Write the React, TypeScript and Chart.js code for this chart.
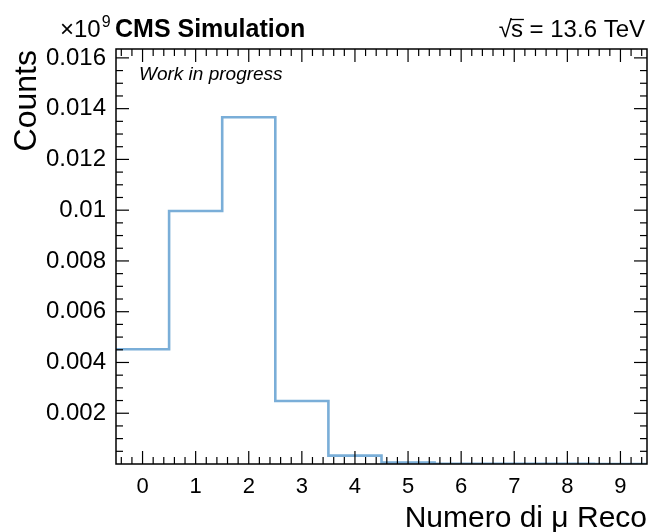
import { useEffect, useRef } from "react";
import { Chart, registerables } from "chart.js";

Chart.register(...registerables);

// Histogram: number of reconstructed muons (values in units of 10^9)
const binCenters = [0, 1, 2, 3, 4, 5, 6, 7, 8, 9];
const counts = [0.00452, 0.00997, 0.01366, 0.00248, 0.00033, 0.00006, 0.000012, 0.000006, 0.000003, 0.000002];

const xTickValues = [0, 1, 2, 3, 4, 5, 6, 7, 8, 9];
const xTickLabels = ["0", "1", "2", "3", "4", "5", "6", "7", "8", "9"];
const yTickValues = [0.002, 0.004, 0.006, 0.008, 0.01, 0.012, 0.014, 0.016];
const yTickLabels = ["0.002", "0.004", "0.006", "0.008", "0.01", "0.012", "0.014", "0.016"];

const X_MIN = -0.5;
const X_MAX = 9.5;
const Y_MAX = 0.01635;
const X_MINOR_STEP = 0.2;
const Y_MINOR_STEP = 0.0005;

const FONT = "'Liberation Sans', Arial, Helvetica, sans-serif";
const LINE_COLOR = "#7aaed8";

const cmsPlugin = {
  id: "cmsDecor",
  afterDraw(chart: any) {
    const { ctx, chartArea: a } = chart;
    const x = chart.scales.x;
    const y = chart.scales.y;
    ctx.save();

    // frame
    ctx.strokeStyle = "#000";
    ctx.lineWidth = 1.5;
    ctx.strokeRect(a.left, a.top, a.right - a.left, a.bottom - a.top);

    ctx.lineWidth = 1.2;
    const seg = (x1: number, y1: number, x2: number, y2: number) => {
      ctx.beginPath();
      ctx.moveTo(x1, y1);
      ctx.lineTo(x2, y2);
      ctx.stroke();
    };
    const xTick = (v: number, len: number) => {
      const px = x.getPixelForValue(v);
      seg(px, a.bottom, px, a.bottom - len);
      seg(px, a.top, px, a.top + len);
    };
    const yTick = (v: number, len: number) => {
      const py = y.getPixelForValue(v);
      seg(a.left, py, a.left + len, py);
      seg(a.right, py, a.right - len, py);
    };
    // minor ticks
    for (let k = Math.ceil(X_MIN / X_MINOR_STEP); k * X_MINOR_STEP <= X_MAX; k++) {
      const v = k * X_MINOR_STEP;
      if (Math.abs(v - Math.round(v)) < 1e-6) continue;
      xTick(v, 7);
    }
    for (let k = 1; k * Y_MINOR_STEP <= Y_MAX; k++) {
      const v = k * Y_MINOR_STEP;
      if (k % 4 === 0) continue;
      yTick(v, 7);
    }
    xTickValues.forEach((v) => xTick(v, 13));
    yTickValues.forEach((v) => yTick(v, 13));

    // texts
    ctx.fillStyle = "#000";
    ctx.textBaseline = "alphabetic";
    ctx.textAlign = "left";
    ctx.font = `24px ${FONT}`;
    ctx.fillText("\u00d710", 60, 37);
    const w10 = ctx.measureText("\u00d710").width;
    ctx.font = `16px ${FONT}`;
    ctx.fillText("9", 60 + w10 + 1, 27);

    ctx.font = `bold 25px ${FONT}`;
    ctx.fillText("CMS Simulation", 115, 37);

    // sqrt(s) = 13.6 TeV
    ctx.font = `24px ${FONT}`;
    ctx.textAlign = "right";
    const rest = "s = 13.6 TeV";
    const right = 645;
    ctx.fillText(rest, right, 37);
    const wRest = ctx.measureText(rest).width;
    const wS = ctx.measureText("s").width;
    const sLeft = right - wRest;
    ctx.fillText("\u221a", sLeft + 1, 37);
    ctx.lineWidth = 1.3;
    seg(sLeft, 19.5, sLeft + wS + 1, 19.5);

    ctx.textAlign = "left";
    ctx.font = `italic 19px ${FONT}`;
    ctx.fillText("Work in progress", 139, 80);

    // axis titles
    ctx.font = `30px ${FONT}`;
    ctx.textAlign = "right";
    ctx.fillText("Numero di \u03bc Reco", a.right, 527);

    ctx.save();
    ctx.font = `32px ${FONT}`;
    ctx.translate(36, a.top + 1);
    ctx.rotate(-Math.PI / 2);
    ctx.textAlign = "right";
    ctx.fillText("Counts", 0, 0);
    ctx.restore();

    ctx.restore();
  },
};

export default function App() {
  const ref = useRef<HTMLCanvasElement | null>(null);

  useEffect(() => {
    document.body.style.margin = "0";
    const canvas = ref.current;
    if (!canvas) return;

    const points: { x: number; y: number }[] = [];
    binCenters.forEach((c, i) => {
      points.push({ x: c - 0.5, y: counts[i] });
      points.push({ x: c + 0.5, y: counts[i] });
    });

    const chart = new Chart(canvas, {
      type: "line",
      data: {
        datasets: [
          {
            data: points,
            borderColor: LINE_COLOR,
            borderWidth: 2.6,
            pointRadius: 0,
            tension: 0,
            fill: false,
          },
        ],
      },
      options: {
        animation: false,
        responsive: false,
        devicePixelRatio: 1,
        layout: { padding: { left: 0, right: 1, top: 49, bottom: 0 } },
        plugins: { legend: { display: false }, tooltip: { enabled: false }, title: { display: false } },
        scales: {
          x: {
            type: "linear",
            min: X_MIN,
            max: X_MAX,
            grid: { display: false, drawTicks: false },
            border: { display: false },
            afterBuildTicks: (scale: any) => {
              scale.ticks = xTickValues.map((v) => ({ value: v }));
            },
            afterFit: (scale: any) => {
              scale.height = 68;
            },
            ticks: {
              autoSkip: false,
              maxRotation: 0,
              padding: 10,
              color: "#000",
              font: { family: FONT, size: 22 },
              callback: (v: any) => {
                const i = xTickValues.indexOf(Number(v));
                return i >= 0 ? xTickLabels[i] : "";
              },
            },
          },
          y: {
            type: "linear",
            min: 0,
            max: Y_MAX,
            grid: { display: false, drawTicks: false },
            border: { display: false },
            afterBuildTicks: (scale: any) => {
              scale.ticks = yTickValues.map((v) => ({ value: v }));
            },
            afterFit: (scale: any) => {
              scale.width = 116;
            },
            ticks: {
              autoSkip: false,
              padding: 10,
              color: "#000",
              font: { family: FONT, size: 24 },
              callback: (v: any) => {
                const i = yTickValues.findIndex((t) => Math.abs(t - Number(v)) < 1e-9);
                return i >= 0 ? yTickLabels[i] : "";
              },
            },
          },
        },
      },
      plugins: [cmsPlugin],
    });

    return () => chart.destroy();
  }, []);

  return <canvas ref={ref} width={648} height={532} style={{ display: "block", width: 648, height: 532 }} />;
}
